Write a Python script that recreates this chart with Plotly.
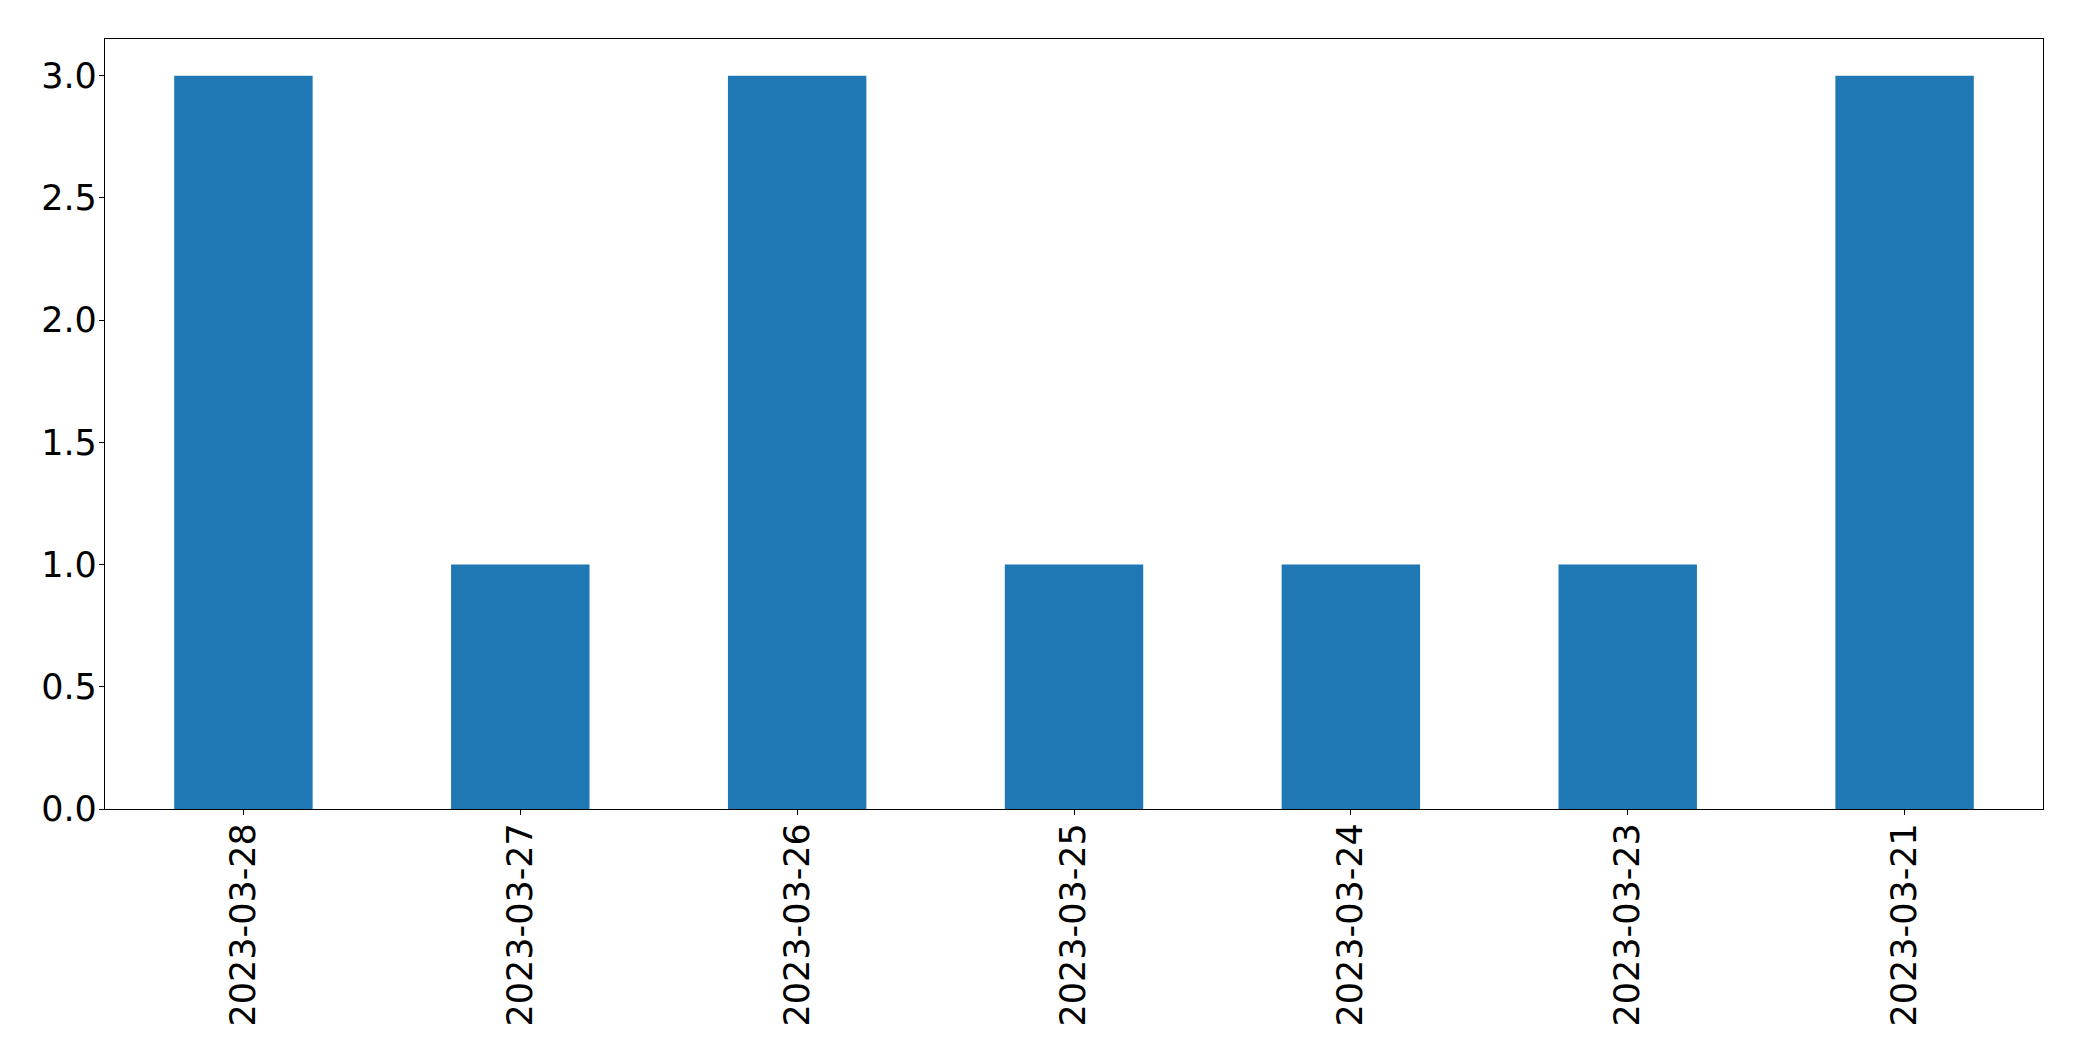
import plotly.graph_objects as go

categories = ["2023-03-28", "2023-03-27", "2023-03-26", "2023-03-25", "2023-03-24", "2023-03-23", "2023-03-21"]
values = [3, 1, 3, 1, 1, 1, 3]
y_ticks = [0.0, 0.5, 1.0, 1.5, 2.0, 2.5, 3.0]
y_tick_labels = ["0.0", "0.5", "1.0", "1.5", "2.0", "2.5", "3.0"]

fig = go.Figure(
    go.Bar(x=categories, y=values, marker=dict(color="#1f77b4", line=dict(width=0)), width=0.5)
)

font = dict(family="DejaVu Sans", size=35, color="black")

fig.update_layout(
    width=2082,
    height=1061,
    margin=dict(l=105, r=39, t=39, b=252, autoexpand=False),
    paper_bgcolor="white",
    plot_bgcolor="white",
    font=font,
    showlegend=False,
    bargap=0.5,
)
fig.update_xaxes(
    type="category",
    range=[-0.5, 6.5],
    tickangle=-90,
    ticks="outside",
    ticklen=5,
    tickwidth=1.3,
    tickcolor="black",
    ticklabelstandoff=-6,
    showline=True,
    linecolor="black",
    linewidth=1.3,
    mirror=True,
    showgrid=False,
    tickfont=font,
    automargin=False,
)
fig.update_yaxes(
    range=[0, 3.15],
    tickvals=y_ticks,
    ticktext=y_tick_labels,
    ticks="outside",
    ticklen=5,
    tickwidth=1.3,
    tickcolor="black",
    ticklabelstandoff=-5,
    showline=True,
    linecolor="black",
    linewidth=1.3,
    mirror=True,
    showgrid=False,
    zeroline=False,
    tickfont=font,
    automargin=False,
)

fig.write_html(
    "out.html",
    config={"displayModeBar": False},
    post_script="document.body.style.margin='0';document.body.style.overflow='hidden';",
)
